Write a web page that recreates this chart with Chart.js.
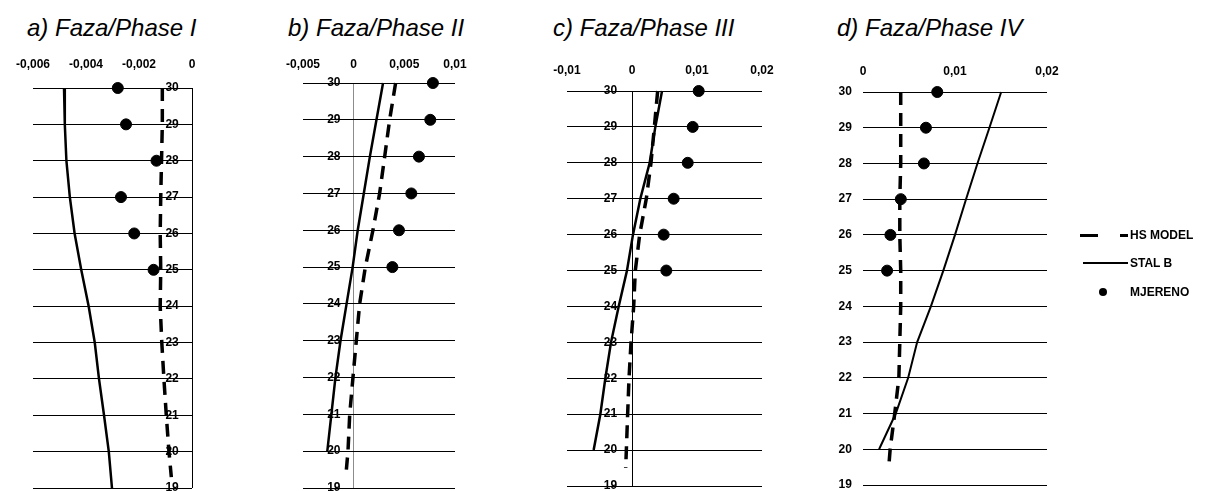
<!DOCTYPE html>
<html>
<head>
<meta charset="utf-8">
<script src="https://cdn.jsdelivr.net/npm/chart.js@4.4.1/dist/chart.umd.min.js"></script>
<style>
  body { margin: 0; background: #fff; }
  #wrap { position: relative; width: 1205px; height: 491px; overflow: hidden; }
  #wrap canvas { position: absolute; left: 0; top: 0; pointer-events: none; }
  .title { position: absolute; top: 16px; font: italic 24px "Liberation Sans", Arial, sans-serif; line-height: 24px; white-space: nowrap; color: #000; }
  .lg { position: absolute; background: #000; }
  .lgText { position: absolute; left: 1130px; font: bold 12px "Liberation Sans", Arial, sans-serif; line-height: 14px; color: #000; }
</style>
</head>
<body>
<div id="wrap">
  <div class="title" style="left:27px">a) Faza/Phase I</div>
  <div class="title" style="left:288px">b) Faza/Phase II</div>
  <div class="title" style="left:553px">c) Faza/Phase III</div>
  <div class="title" style="left:837px">d) Faza/Phase IV</div>

  <canvas id="phaseA" width="1205" height="520"></canvas>
  <canvas id="phaseB" width="1205" height="520"></canvas>
  <canvas id="phaseC" width="1205" height="520"></canvas>
  <canvas id="phaseD" width="1205" height="520"></canvas>

  <!-- legend -->
  <div class="lg" style="left:1080px;top:234px;width:18px;height:3px"></div>
  <div class="lg" style="left:1120px;top:234px;width:8px;height:3px"></div>
  <div class="lgText" style="top:228px">HS MODEL</div>
  <div class="lg" style="left:1083px;top:262px;width:45px;height:2px"></div>
  <div class="lgText" style="top:256px">STAL B</div>
  <div class="lg" style="left:1099px;top:288px;width:8px;height:8px;border-radius:50%"></div>
  <div class="lgText" style="top:285px">MJERENO</div>
</div>

<script>
// heights (levels) used on the vertical axis
const levelTicks = [30, 29, 28, 27, 26, 25, 24, 23, 22, 21, 20, 19];
const levels = [30, 29, 28, 27, 26, 25, 24, 23, 22, 21, 20];
const measLevels = [30, 29, 28, 27, 26, 25];
const hsLevelsA = [30, 29, 28, 27, 26, 25, 24, 23, 22, 21, 20, 19.3];
const hsLevels = [30, 29, 28, 27, 26, 25, 24, 23, 22, 21, 20, 19.5];
const stalLevelsA = [30, 29, 28, 27, 26, 25, 24, 23, 22, 21, 20, 19];

// x tick labels per phase
const xTicksA = [-0.006, -0.004, -0.002, 0];
const xTicksB = [-0.005, 0, 0.005, 0.01];
const xTicksC = [-0.01, 0, 0.01, 0.02];
const xTicksD = [0, 0.01, 0.02];

// Phase I
const hsA = [-0.00112, -0.00112, -0.00115, -0.00118, -0.0012, -0.00118, -0.0012, -0.00114, -0.00106, -0.00097, -0.00087, -0.00078];
const stalA = [-0.00483, -0.0048, -0.00474, -0.00461, -0.00443, -0.00418, -0.0039, -0.00367, -0.00351, -0.00332, -0.00314, -0.00302];
const measA = [-0.0028, -0.00249, -0.00134, -0.00268, -0.00218, -0.00145];

// Phase II
const hsB = [0.00414, 0.00355, 0.00306, 0.00256, 0.0019, 0.00115, 0.00059, 0.00026, -0.00007, -0.00039, -0.00056, -0.00072];
const stalB = [0.0029, 0.00225, 0.0016, 0.001, 0.0004, -0.0001, -0.0007, -0.0013, -0.0018, -0.0022, -0.0026];
const measB = [0.00782, 0.00756, 0.00644, 0.00569, 0.00447, 0.00382];

// Phase III
const hsC = [0.00395, 0.00344, 0.00292, 0.0022, 0.00118, 0.00051, 0.00026, -0.00015, -0.00046, -0.00067, -0.00087, -0.00097];
const stalC = [0.00462, 0.00359, 0.00272, 0.00128, 0.00015, -0.00077, -0.00205, -0.00323, -0.0041, -0.00487, -0.0059];
const measC = [0.01026, 0.00934, 0.00857, 0.00641, 0.00487, 0.00528];

// Phase IV
const hsD = [0.0041, 0.0041, 0.0041, 0.004, 0.004, 0.0041, 0.0041, 0.004, 0.0039, 0.00345, 0.00295, 0.0028];
const stalD = [0.01502, 0.01374, 0.01244, 0.0112, 0.01, 0.00873, 0.00738, 0.00589, 0.00491, 0.00356, 0.00175];
const measD = [0.00807, 0.00684, 0.00662, 0.00411, 0.00298, 0.00262];

const tickFont = { family: '"Liberation Sans", Arial, sans-serif', size: 12, weight: 'bold' };
const fmt = v => String(v).replace('.', ',');
const pts = (xs, ys) => xs.map((x, i) => ({ x: x, y: ys[i] }));

function drawPanel(id, p) {
  new Chart(document.getElementById(id), {
    type: 'scatter',
    data: {
      datasets: [
        { label: 'HS MODEL', data: pts(p.hs, p.hsY), showLine: true, borderColor: '#000', borderWidth: 3.5,
          borderDash: [13, 8], pointRadius: 0, clip: false },
        { label: 'STAL B', data: pts(p.stal, p.stalY), showLine: true, borderColor: '#000', borderWidth: p.stalWidth,
          pointRadius: 0, clip: false },
        { label: 'MJERENO', data: pts(p.meas, measLevels), showLine: false, pointRadius: 5.5,
          backgroundColor: '#000', borderColor: '#000', clip: false }
      ]
    },
    options: {
      responsive: false,
      animation: false,
      events: [],
      layout: { padding: p.pad },
      plugins: { legend: { display: false }, tooltip: { enabled: false } },
      scales: {
        x: {
          type: 'linear',
          position: 'top',
          min: p.xTicks[0],
          max: p.xTicks[p.xTicks.length - 1],
          afterBuildTicks: s => { s.ticks = p.xTicks.map(v => ({ value: v })); },
          afterFit: s => { s.height = 30; },
          grid: {
            drawTicks: false,
            lineWidth: 1,
            color: c => (c.tick && c.tick.value === 0) ? p.zeroColor : 'rgba(0,0,0,0)'
          },
          border: { display: false },
          ticks: { padding: p.xPad, color: '#000', font: tickFont, autoSkip: false, maxRotation: 0,
                   callback: v => fmt(v) }
        },
        y: {
          type: 'linear',
          min: 19,
          max: 30,
          position: { x: p.yAt },
          afterBuildTicks: s => { s.ticks = levelTicks.map(v => ({ value: v })); },
          grid: { drawTicks: false, color: '#000', lineWidth: 1 },
          border: { display: false },
          ticks: { color: '#000', font: tickFont, autoSkip: false }
        }
      }
    }
  });
}

drawPanel('phaseA', { xTicks: xTicksA, hs: hsA, hsY: hsLevelsA, stal: stalA, stalY: stalLevelsA, meas: measA,
  stalWidth: 2.5, zeroColor: '#000', yAt: -0.0005, xPad: 16,
  pad: { left: 29, right: 1013, top: 58, bottom: 32 } });

drawPanel('phaseB', { xTicks: xTicksB, hs: hsB, hsY: hsLevels, stal: stalB, stalY: levels, meas: measB,
  stalWidth: 2.5, zeroColor: '#8c8c8c', yAt: -0.0013, xPad: 11,
  pad: { left: 303, right: 750, top: 53, bottom: 32 } });

drawPanel('phaseC', { xTicks: xTicksC, hs: hsC, hsY: hsLevels, stal: stalC, stalY: levels, meas: measC,
  stalWidth: 2.5, zeroColor: '#000', yAt: -0.0023, xPad: 13,
  pad: { left: 567, right: 443, top: 61, bottom: 34 } });

drawPanel('phaseD', { xTicks: xTicksD, hs: hsD, hsY: hsLevels, stal: stalD, stalY: levels, meas: measD,
  stalWidth: 2, zeroColor: 'rgba(0,0,0,0)', yAt: -0.0012, xPad: 13,
  pad: { left: 863, right: 158, top: 62, bottom: 35 } });
</script>
</body>
</html>
